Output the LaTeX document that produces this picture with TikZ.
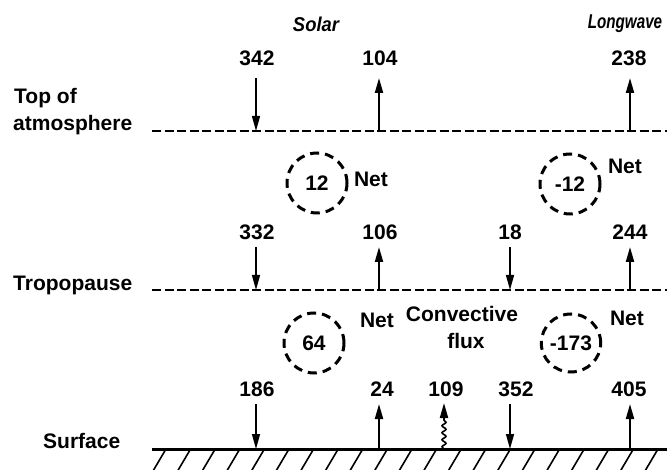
\documentclass[tikz,border=0pt]{standalone}
\usepackage{fontspec}
\setmainfont{Liberation Sans}
\usetikzlibrary{arrows.meta,decorations.pathmorphing,shapes.geometric}
\begin{document}
\begin{tikzpicture}[x=1pt,y=-1pt,
  lbl/.style={font=\fontsize{21}{25}\selectfont\bfseries, inner sep=0pt},
  ttl/.style={font=\fontsize{20}{24}\selectfont\bfseries\itshape, inner sep=0pt},
  level/.style={line width=2.4pt, dash pattern=on 9pt off 3.5pt},
  ground/.style={line width=3pt},
  hatch/.style={line width=1.6pt},
  netc/.style={draw, ellipse, line width=3pt, dash pattern=on 9pt off 6pt, minimum width=60pt, minimum height=60pt, inner sep=0pt, font=\fontsize{21}{25}\selectfont\bfseries},
  dn/.style={line width=1.4pt, -{Triangle[length=15pt,width=8pt]}},
  upa/.style={line width=2pt, -{Triangle[length=15pt,width=8pt]}},
]
\useasboundingbox (0,0) rectangle (667,470);
% titles
\node[ttl] (solar) at (316,24) {\scalebox{0.92}[1]{Solar}};
\node[ttl] (long) at (625,24) {\scalebox{0.76}[1]{Longwave}};
% left labels
\node[lbl, anchor=base west] (top1) at (14,104) {Top of};
\node[lbl, anchor=base west] (top2) at (13,131) {atmosphere};
\node[lbl, anchor=base west] (trop) at (13,291) {Tropopause};
\node[lbl, anchor=base west] (surf) at (43,448) {Surface};
% levels
\coordinate (toaL) at (152,131); \coordinate (toaR) at (667,131);
\coordinate (trL) at (152,290); \coordinate (trR) at (667,290);
\coordinate (sfL) at (152,449); \coordinate (sfR) at (667,449);
\draw[level] (toaL) -- (toaR);
\draw[level] (trL) -- (trR);
\draw[ground] (sfL) -- (sfR);
\foreach \i in {0,...,20} \draw[hatch] (153+\i*24.6,471) -- (166+\i*24.6,449);
% row 1 labels
\node[lbl] (v342) at (257,58) {342};
\node[lbl] (v104) at (380,58) {104};
\node[lbl] (v238) at (629,58) {238};
\coordinate (a1t) at (256,78); \coordinate (a1b) at (256,131);
\coordinate (a2t) at (379,78); \coordinate (a2b) at (379,131);
\coordinate (a3t) at (630,78); \coordinate (a3b) at (630,131);
\draw[dn] (a1t) -- (a1b);
\draw[upa] (a2b) -- (a2t);
\draw[upa] (a3b) -- (a3t);
% net circles upper
\node[netc] (n12) at (317,183) {12};
\node[lbl] (net1) at (371,179) {Net};
\node[netc] (nm12) at (570,184) {-12};
\node[lbl] (net2) at (625,166) {Net};
% row 2
\node[lbl] (v332) at (257,232) {332};
\node[lbl] (v106) at (380,232) {106};
\node[lbl] (v18) at (510,232) {18};
\node[lbl] (v244) at (630,232) {244};
\coordinate (b1t) at (256,247); \coordinate (b1b) at (256,290);
\coordinate (b2t) at (379,247); \coordinate (b2b) at (379,290);
\coordinate (b3t) at (510,247); \coordinate (b3b) at (510,290);
\coordinate (b4t) at (630,247); \coordinate (b4b) at (630,290);
\draw[dn] (b1t) -- (b1b);
\draw[upa] (b2b) -- (b2t);
\draw[dn] (b3t) -- (b3b);
\draw[upa] (b4b) -- (b4t);
% net circles lower
\node[netc] (n64) at (314,343) {64};
\node[lbl] (net3) at (377,320) {Net};
\node[netc, minimum width=58pt, minimum height=58pt] (nm173) at (571,343) {-173};
\node[lbl] (net4) at (627,318) {Net};
\node[lbl] (conv) at (462,314) {Convective};
\node[lbl] (flux) at (466,341) {flux};
% row 3
\node[lbl] (v186) at (257,389) {186};
\node[lbl] (v24) at (382,389) {24};
\node[lbl] (v109) at (446,389) {109};
\node[lbl] (v352) at (516,389) {352};
\node[lbl] (v405) at (629,389) {405};
\coordinate (c1t) at (256,404); \coordinate (c1b) at (256,449);
\coordinate (c2t) at (379,404); \coordinate (c2b) at (379,449);
\coordinate (c3t) at (510,404); \coordinate (c3b) at (510,449);
\coordinate (c4t) at (630,404); \coordinate (c4b) at (630,449);
\draw[dn] (c1t) -- (c1b);
\draw[upa] (c2b) -- (c2t);
\draw[dn] (c3t) -- (c3b);
\draw[upa] (c4b) -- (c4t);
% wavy convective arrow
\coordinate (wb) at (444,449); \coordinate (wm) at (444,418); \coordinate (wt) at (444,403);
\draw[line width=1.6pt, decorate, decoration={snake, amplitude=2pt, segment length=7pt}] (wb) -- (wm);
\draw[upa] (wm) -- (wt);
\end{tikzpicture}
\end{document}
